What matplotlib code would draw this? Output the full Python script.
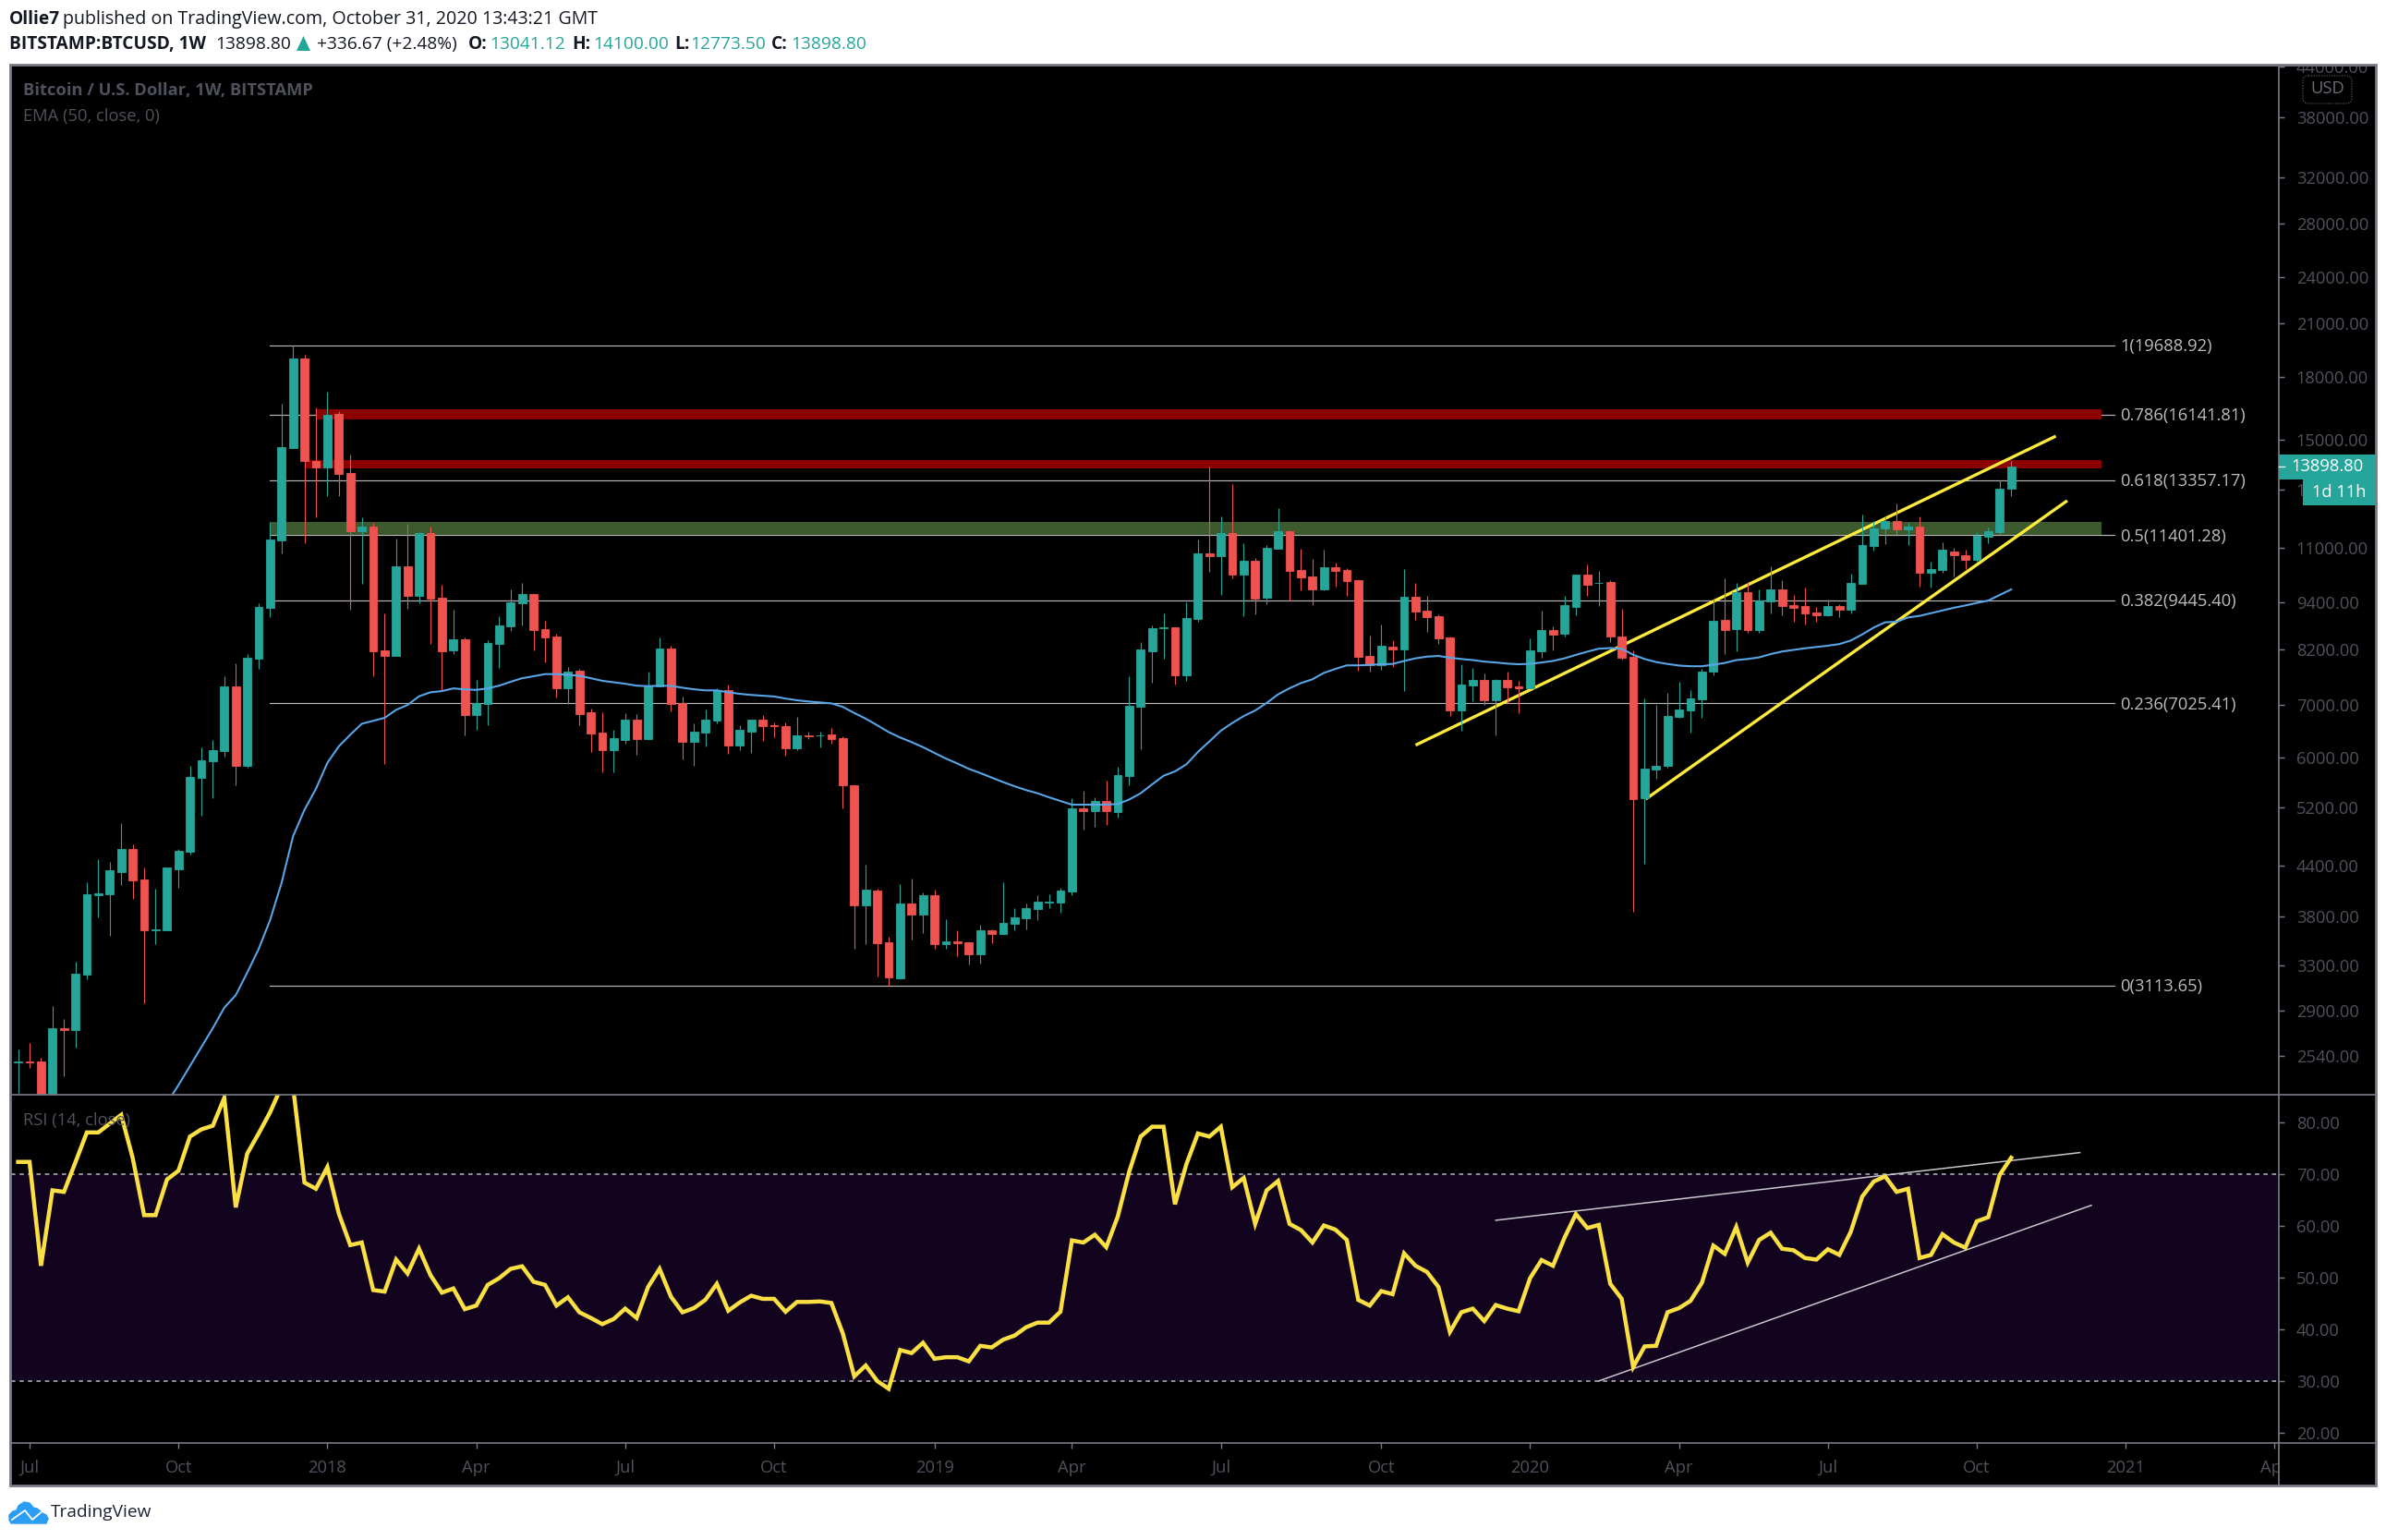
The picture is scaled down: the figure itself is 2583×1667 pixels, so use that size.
import matplotlib
matplotlib.use("Agg")
import matplotlib.pyplot as plt
from matplotlib.patches import FancyBboxPatch, Rectangle, Polygon
from matplotlib.transforms import Bbox

plt.rcParams['font.family'] = ['Open Sans', 'DejaVu Sans']

W, H = 2583, 1667
UP = "#26A69A"
DOWN = "#EF5350"
AXIS_TXT = "#4F525C"
BORDER = "#787B86"

# weekly candles o, h, l, c, the first row is week -1 (week 0 = 2017-07-03)
candles = [
  (2495,2593,2287,2505),(2505,2642,2459,2498),(2502,2530,1830,1980),(1980,2939,1850,2751),
  (2755,2827,2396,2740),(2743,3337,2608,3224),(3210,4197,3173,4055),(4045,4486,3795,4065),
  (4055,4447,3598,4346),(4321,4976,4162,4610),(4610,4684,3997,4222),(4228,4377,2961,3655),
  (3650,4120,3505,3665),(3655,4377,3655,4377),(4358,4617,4132,4597),(4584,5858,4538,5683),
  (5666,6186,5085,5960),(5951,6322,5349,6142),(6125,7593,6019,7377),(7377,7872,5553,5858),
  (5858,8103,5840,8010),(7986,9373,7759,9279),(9250,11822,9002,11256),(11223,16664,10827,14697),
  (14655,19689,14655,18972),(18972,19193,11142,14117),(14117,16471,12011,13855),(13855,17224,12762,16119),
  (16166,16283,12762,13597),(13637,14384,9199,11536),(11536,12011,9915,11686),(11686,11822,7593,8161),
  (8185,9107,5900,8056),(8056,11288,8056,10428),(10428,11788,9226,9577),(9577,11500,9360,11470),
  (11470,11686,8339,9496),(9524,9887,7292,8161),(8185,9199,8103,8449),(8449,8486,6405,6795),
  (6795,7516,6499,7024),(7014,8415,6602,8363),(8339,9027,7781,8797),(8771,9759,8645,9401),
  (9373,9940,8797,9632),(9632,9632,8185,8683),(8695,8912,7903,8500),(8525,8587,7150,7332),
  (7332,7792,7014,7703),(7714,7759,6602,6816),(6842,6924,6107,6442),(6460,6845,5756,6142),
  (6142,6508,5757,6359),(6316,6830,6247,6698),(6698,6808,6057,6337),(6337,7695,6316,7387),
  (7379,8490,7365,8222),(8222,8286,6868,7014),(7022,7163,5977,6281),(6281,6630,5866,6471),
  (6455,6895,6198,6696),(6681,7331,6630,7298),(7298,7411,6069,6219),(6219,6593,6136,6507),
  (6471,6696,6088,6696),(6696,6785,6298,6571),(6590,6652,6367,6570),(6571,6652,6037,6168),
  (6168,6755,6136,6399),(6405,6471,6337,6395),(6400,6471,6182,6410),(6420,6543,6254,6337),
  (6351,6380,5190,5545),(5545,5557,3461,3921),(3921,4412,3507,4102),(4093,4120,3193,3519),
  (3526,3582,3113,3186),(3179,4171,3170,3942),(3942,4236,3554,3818),(3818,4078,3621,4039),
  (4039,4102,3461,3507),(3507,3768,3461,3534),(3535,3649,3390,3518),(3526,3534,3308,3408),
  (3408,3710,3320,3649),(3649,3665,3519,3611),(3611,4194,3600,3731),(3718,3890,3649,3789),
  (3781,3942,3661,3890),(3881,4039,3760,3964),(3955,4047,3897,3965),(3957,4124,3840,4093),
  (4083,5341,4039,5190),(5190,5460,4883,5150),(5150,5357,4917,5300),(5300,5619,4950,5150),
  (5135,5846,5055,5712),(5690,7594,5545,6975),(6952,8377,6155,8204),(8158,8785,7452,8717),
  (8718,9100,7992,8735),(8750,8750,7411,7610),(7610,9396,7488,8981),(8945,11262,8877,10823),
  (10823,13890,10253,10727),(10727,12047,9597,11476),(11476,13202,10060,10173),(10175,11140,9036,10590),
  (10590,10675,9076,9496),(9520,11080,9354,10993),(10962,12330,10962,11531),(11531,11560,9450,10286),
  (10316,10962,9725,10095),(10122,10650,9310,9752),(9752,10935,9725,10400),(10400,10545,9830,10286),
  (10316,10370,9570,9990),(10015,10040,7715,8030),(8050,8540,7695,7835),(7835,8810,7735,8290),
  (8269,8425,7800,8203),(8203,10330,7275,9545),(9545,9935,8930,9150),(9180,9570,8630,9000),
  (9030,9076,8335,8470),(8490,8515,6770,6880),(6880,7860,6490,7415),(7400,7775,7068,7515),
  (7515,7655,6990,7085),(7085,7535,6405,7515),(7515,7695,7030,7355),(7375,7495,6830,7335),
  (7335,8470,7335,8180),(8160,9180,8010,8665),(8665,8760,8180,8560),(8585,9570,8515,9315),
  (9270,10175,9050,10175),(10175,10480,9570,9880),(9925,10286,9300,9945),(9960,10015,8370,8515),
  (8515,9210,7970,8010),(8030,8180,3850,5330),(5345,7130,4425,5820),(5805,6990,5650,5870),
  (5870,7245,5835,6770),(6750,7475,6730,6900),(6880,7300,6460,7130),(7110,7755,6730,7695),
  (7695,9490,7615,8910),(8930,10080,8090,8665),(8690,9935,8160,9680),(9680,9960,8610,8665),
  (8672,9747,8613,9443),(9415,10413,9097,9747),(9747,10006,9055,9293),(9318,9593,8884,9240),
  (9293,9801,8820,9097),(9123,9267,8884,9055),(9046,9467,9021,9293),(9293,9344,9004,9200),
  (9190,10194,9097,9932),(9904,12095,9904,11068),(11047,11884,10915,11640),(11612,12030,11110,11884),
  (11884,12475,11370,11580),(11590,11825,11078,11676),(11676,12030,9825,10220),(10220,10565,9801,10335),
  (10305,11160,10220,10935),(10890,11000,10115,10750),(10770,10935,10335,10625),(10615,11490,10565,11370),
  (11360,11665,11150,11535),(11500,13342,11400,13041),(13041.12,14100,12773.5,13898.8),
]
weeks = list(range(-1, len(candles) - 1))

# EMA 50, (week, value)
ema = [(12,2220),(13,2338),(16,2755),(17,2922),(18,3029),(19,3232),(20,3460),(21,3762),(22,4186),(23,4786),
  (24,5167),(25,5489),(26,5916),(27,6205),(28,6416),(29,6621),(30,6679),(31,6736),(32,6892),(33,6990),
  (34,7167),(35,7250),(36,7275),(37,7332),(38,7312),(39,7300),(40,7332),(41,7390),(42,7473),(43,7550),
  (44,7593),(45,7640),(46,7640),(47,7625),(48,7604),(49,7550),(50,7494),(51,7462),(52,7430),(53,7390),
  (54,7379),(55,7387),(56,7387),(57,7346),(58,7313),(59,7290),(60,7290),(61,7250),(62,7218),(63,7195),
  (64,7180),(65,7163),(66,7120),(67,7085),(68,7060),(69,7040),(70,7022),(71,6952),(72,6830),(73,6720),
  (74,6593),(75,6465),(76,6365),(77,6281),(78,6190),(79,6088),(80,5990),(81,5905),(82,5815),(83,5745),
  (84,5670),(85,5597),(86,5530),(87,5470),(88,5420),(89,5357),(90,5300),(91,5245),(92,5245),(93,5245),
  (94,5245),(95,5255),(96,5323),(97,5420),(98,5560),(99,5700),(100,5772),(101,5892),(102,6105),(103,6292),
  (104,6490),(105,6636),(106,6770),(107,6880),(108,7030),(109,7207),(110,7335),(111,7445),(112,7527),(113,7667),
  (114,7755),(115,7835),(116,7835),(117,7845),(118,7860),(119,7867),(120,7935),(121,7995),(122,8035),(123,8050),
  (124,8010),(125,7980),(126,7955),(127,7920),(128,7900),(129,7875),(130,7860),(131,7870),(132,7900),(133,7935),
  (134,7995),(135,8075),(136,8150),(137,8220),(138,8235),(139,8220),(140,8078),(141,7980),(142,7910),(143,7867),
  (144,7830),(145,7815),(146,7815),(147,7850),(148,7890),(149,7955),(150,7980),(151,8018),(152,8093),(153,8154),
  (154,8192),(155,8230),(156,8262),(157,8292),(158,8330),(159,8416),(160,8566),(161,8736),(162,8870),(163,8884),
  (164,8995),(165,9035),(166,9107),(167,9182),(168,9250),(169,9310),(170,9380),(171,9443),(172,9597),(173,9750)]

rsi = [72.4,72.4,52.3,66.9,66.6,72.3,78.1,78.1,79.8,81.5,73.2,62.1,62.1,69,70.7,77.3,78.7,79.4,84.8,63.6,
  74,77.9,82,87,87,68.4,67.2,71.4,62.4,56.3,56.8,47.6,47.3,53.5,50.8,55.6,50.5,47.1,47.9,43.9,
  44.6,48.6,49.9,51.7,52.2,49.2,48.6,44.6,46.2,43.3,42.2,41,42,44,42.2,48.2,51.7,46.3,43.3,44.1,
  45.7,48.8,43.6,45.2,46.5,45.9,45.9,43.4,45.3,45.3,45.4,45.1,39.2,30.9,33,30,28.5,36,35.4,37.4,
  34.3,34.6,34.6,33.8,36.8,36.5,38,38.8,40.4,41.3,41.3,43.4,57.2,56.8,58.3,55.9,61.8,70.5,77.3,79.2,
  79.2,64.2,72,77.9,77.3,79.2,67.5,69.3,60.4,66.9,68.7,60.4,59.2,56.8,60.1,59.3,57.3,45.7,44.6,47.4,
  46.8,54.7,52.3,51.1,48.2,39.5,43.3,44,41.6,44.7,44,43.5,49.9,53.4,52.3,57.7,62.3,59.6,60.2,48.8,
  45.9,32.7,36.7,36.8,43.3,44.1,45.5,49,56.2,54.6,59.8,52.9,57.3,58.7,55.6,55.3,53.8,53.5,55.5,54.4,
  58.9,65.7,68.6,69.6,66.6,67.2,53.8,54.4,58.4,56.8,55.8,60.9,61.7,69.9,73.2]

fib = [("1",19688.92),("0.786",16141.81),("0.618",13357.17),("0.5",11401.28),
       ("0.382",9445.40),("0.236",7025.41),("0",3113.65)]
price_ticks = [44000,38000,32000,28000,24000,21000,18000,15000,13000,11000,
               9400,8200,7000,6000,5200,4400,3800,3300,2900,2540]
time_ticks = {0:"Jul",13:"Oct",26:"2018",39:"Apr",52:"Jul",65:"Oct",79:"2019",91:"Apr",104:"Jul",
              118:"Oct",131:"2020",144:"Apr",157:"Jul",170:"Oct",183:"2021",196:"Apr"}


def px_axes(left, top, right, bottom, **kw):
  # axes placed by pixel box, y counted from top of the image
  return fig.add_axes([left / W, 1 - bottom / H, (right - left) / W, (bottom - top) / H], **kw)


fig = plt.figure(figsize=(W / 100, H / 100), dpi=100, facecolor="white")

# black backing behind panes and scales
back = px_axes(0, 0, W, H, zorder=-1)
back.set_xlim(0, W)
back.set_ylim(H, 0)
back.axis("off")
back.add_patch(Rectangle((11, 70), 2561, 1538, fc="black", ec="none"))

ax = px_axes(12, 70, 2467, 1185, facecolor="black")
ax2 = px_axes(12, 1185, 2467, 1562, facecolor="black")
xlim = (-1.613, 196.37)

# price pane
ax.set_yscale("log")
ax.set_ylim(2274, 44225)
ax.set_xlim(*xlim)

#fib levels
for name, val in fib:
  ax.plot([21, 182], [val, val], color="#B8B8BC", lw=0.85, zorder=1)
  ax.annotate(f"{name}({val:.2f})", (182.5, val), xytext=(0, -1), textcoords="offset points",
              color="#BDBDC0", fontsize=13.2, va="center", ha="left", zorder=6)

#trend lines
ax.plot([121, 176.9], [6226, 15165], color="#FFEB3B", lw=2.4, zorder=2, solid_capstyle="butt")
ax.plot([141.1, 177.9], [5330, 12593], color="#FFEB3B", lw=2.4, zorder=2, solid_capstyle="butt")

#resistance and support bands
ax.fill_between([25, 180.9], 15932, 16377, color="#8B0000", lw=0, zorder=1.5)
ax.fill_between([24, 180.9], 13813, 14154, color="#8B0000", lw=0, zorder=1.5)
ax.fill_between([21, 180.9], 11403, 11830, color="#3C5A2D", lw=0, zorder=1.5)

#candles
for w, (o, h, l, c) in zip(weeks, candles):
  col = UP if c >= o else DOWN
  ax.vlines(w, l, h, color=col, lw=0.8, zorder=3)
  ax.bar(w, abs(c - o), bottom=min(o, c), width=0.72, color=col, edgecolor=col, lw=0.6, zorder=4)

ax.plot([e[0] for e in ema], [e[1] for e in ema], color="#58A6E8", lw=1.5, zorder=5)

ax.yaxis.tick_right()
ax.set_yticks(price_ticks)
ax.set_yticks([], minor=True)
ax.set_yticklabels([f"{p:.2f}" for p in price_ticks], fontsize=13.2, color=AXIS_TXT)
ax.tick_params(axis="y", which="major", length=4.5, width=1, color=BORDER, pad=9)
ax.set_xticks([])
clip = Bbox([[0, 0], [W, H - 70]])
for lab in ax.get_yticklabels():
  lab.set_clip_box(clip)
  lab.set_clip_on(True)

# rsi pane
ax2.set_xlim(*xlim)
ax2.set_ylim(18.0, 85.4)
ax2.axhspan(30, 70, color="#12031F", lw=0, zorder=0)
ax2.axhline(70, color="#B8B8BC", lw=1.1, dashes=(3, 3), zorder=1)
ax2.axhline(30, color="#B8B8BC", lw=1.1, dashes=(3, 3), zorder=1)
ax2.plot([128, 179], [61.1, 74.2], color="#C8C8CC", lw=1.1, zorder=3)
ax2.plot([137, 180], [30, 64], color="#C8C8CC", lw=1.1, zorder=3)
ax2.plot(weeks, rsi, color="#FBE044", lw=3.2, zorder=4, solid_joinstyle="miter")

ax2.yaxis.tick_right()
rsi_ticks = [20, 30, 40, 50, 60, 70, 80]
ax2.set_yticks(rsi_ticks)
ax2.set_yticklabels([f"{v:.2f}" for v in rsi_ticks], fontsize=13.2, color=AXIS_TXT)
ax2.tick_params(axis="y", length=4.5, width=1, color=BORDER, pad=9)
ax2.set_xticks(list(time_ticks.keys()))
ax2.set_xticklabels(list(time_ticks.values()), fontsize=13.2, color=AXIS_TXT)
ax2.tick_params(axis="x", length=4, width=1, color=BORDER, pad=9)
clip2 = Bbox([[0, 0], [2467, H]])
for lab in ax2.get_xticklabels():
  lab.set_clip_box(clip2)
  lab.set_clip_on(True)

for a in (ax, ax2):
  for s in a.spines.values():
    s.set_visible(False)

# chrome on top: borders, labels, header, logo
top = px_axes(0, 0, W, H, zorder=10)
top.set_xlim(0, W)
top.set_ylim(H, 0)
top.axis("off")
top.patch.set_alpha(0)

top.add_patch(Rectangle((11, 70), 2561, 1538, fc="none", ec=BORDER, lw=2))
top.plot([2467, 2467], [70, 1608], color=BORDER, lw=1.2)
top.plot([11, 2572], [1185, 1185], color=BORDER, lw=1.2)
top.plot([11, 2572], [1562, 1562], color=BORDER, lw=1.2)

top.text(25, 98, "Bitcoin / U.S. Dollar, 1W, BITSTAMP", color=AXIS_TXT, fontsize=13.2, fontweight="bold", va="center")
top.text(25, 126, "EMA (50, close, 0)", color=AXIS_TXT, fontsize=13.2, va="center")
top.text(25, 1213, "RSI (14, close)", color=AXIS_TXT, fontsize=13.2, va="center")

# usd box
top.add_patch(FancyBboxPatch((2497, 86), 45, 22, boxstyle="round,pad=4,rounding_size=6", fc="black", ec="#45474F", lw=1, ls=(0, (1, 1))))
top.text(2519.5, 96, "USD", color="#6A6D78", fontsize=13.2, ha="center", va="center")

# last price labels
top.add_patch(Rectangle((2467, 492), 105, 27, fc=UP, ec="none"))
top.add_patch(Rectangle((2493, 519), 79, 28, fc=UP, ec="none"))
top.plot([2467, 2473], [505, 505], color="white", lw=1)
top.text(2480, 505, "13898.80", color="white", fontsize=13.2, va="center")
top.text(2532, 533, "1d 11h", color="white", fontsize=13.2, va="center", ha="center")

# header
DARK = "#131722"
top.text(10, 21, "Ollie7", color=DARK, fontsize=13.8, fontweight="bold", va="center")
top.text(68, 21, "published on TradingView.com, October 31, 2020 13:43:21 GMT", color=DARK, fontsize=14.1, va="center")
top.text(10, 47.5, "BITSTAMP:BTCUSD, 1W", color=DARK, fontsize=13.8, fontweight="bold", va="center")
top.text(233, 47.5, "13898.80", color=DARK, fontsize=13.8, va="center")
top.add_patch(Polygon([(321, 55), (336, 55), (328.5, 39)], fc=UP, ec="none"))
top.text(343, 47.5, "+336.67 (+2.48%)", color=DARK, fontsize=13.8, va="center")
for x_l, lab, x_v, val in [(507, "O:", 530, "13041.12"), (619, "H:", 642, "14100.00"),
                           (730, "L:", 747, "12773.50"), (835, "C:", 856, "13898.80")]:
  top.text(x_l, 47.5, lab, color=DARK, fontsize=13.8, fontweight="bold", va="center")
  top.text(x_v, 47.5, val, color=UP, fontsize=13.8, va="center")

# tradingview logo
top.add_patch(Polygon([(10, 1645), (10, 1640), (14, 1636), (18, 1635), (20, 1630), (26, 1626), (32, 1627), (36, 1632),
                       (40, 1633), (44, 1636), (46, 1638), (50, 1640), (52, 1644), (50, 1649), (12, 1649)],
                      fc="#2A9DF4", ec="#2A9DF4", lw=1, joinstyle="round"))
top.plot([13, 27, 35, 48], [1645, 1635, 1645, 1634], color="white", lw=1.3)
top.text(55, 1637, "TradingView", color="#1E2233", fontsize=13.8, va="center")

fig.savefig("out.png", dpi=100)
